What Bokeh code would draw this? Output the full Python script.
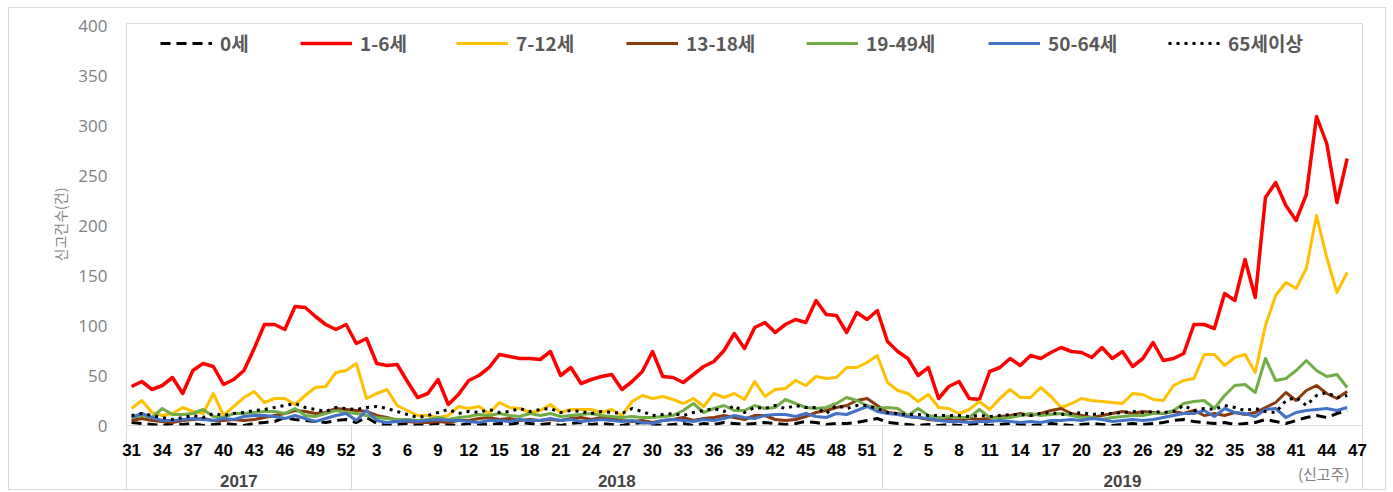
from bokeh.plotting import figure
from bokeh.models import FixedTicker, LinearAxis, Legend, LegendItem, Range1d
from bokeh.embed import file_html
from bokeh.resources import INLINE

# ---- categories (report weeks) ----
weeks_2017 = list(range(31, 53))
weeks_2018 = list(range(1, 53))
weeks_2019 = list(range(1, 48))
week_labels = [str(w) for w in weeks_2017 + weeks_2018 + weeks_2019]
years = ["2017", "2018", "2019"]
x_unit_label = "(신고주)"
y_ticks = [0, 50, 100, 150, 200, 250, 300, 350, 400]
series_names = ["0세", "1-6세", "7-12세", "13-18세", "19-49세", "50-64세", "65세이상"]

# ---- series values (weekly report counts) ----
age_0 = [3,2,1,0,2,1,2,0,1,2, 1,0,2,3,4,8,6,5,4,3, 5,6,3,8,2,0,1,2,0,1,
         2,1,0,2,1,1,2,1,3,2, 1,2,0,2,3,1,2,1,0,2, 3,1,0,1,2,0,2,1,3,2,
         1,2,3,2,1,2,4,3,1,2, 2,3,5,7,3,2,1,0,1,0, 1,0,1,2,0,1,2,1,0,1,
         2,1,0,1,2,1,0,1,2,1, 2,3,5,6,4,3,2,3,1,2, 3,6,4,2,5,8,10,8,12,15]
age_1_6 = [39,44,36,40,48,32,55,62,59,41, 46,55,77,101,101,96,119,118,109,101,
           96,101,82,87,62,60,61,44,28,32, 46,21,31,45,50,58,71,69,67,67,
           66,74,50,58,42,46,49,51,36,44, 54,74,49,48,43,51,59,64,75,92,
           77,98,103,93,101,106,103,125,111,110, 93,113,106,115,84,74,67,50,58,27,
           39,44,27,26,54,58,67,60,70,67, 73,78,74,73,68,78,67,74,59,67,
           83,65,67,72,101,101,97,132,125,166, 128,228,243,220,205,231,309,282,223,267]
age_7_12 = [17,25,13,10,12,18,14,12,32,10, 19,28,34,23,27,27,21,30,38,39,
            53,55,62,27,32,36,20,15,10,10, 8,10,19,17,19,12,23,18,17,13,
            15,21,13,16,16,16,13,16,10,24, 30,27,29,26,22,27,19,32,28,32,
            26,44,29,36,37,45,40,49,47,48, 58,58,63,70,43,35,32,24,31,18,
            17,12,16,24,16,27,36,28,28,38, 29,18,22,27,25,24,23,22,32,31,
            26,25,40,45,47,71,71,60,68,71, 53,100,130,143,137,157,210,168,133,153]
age_13_18 = [5,7,5,4,3,5,6,7,5,5, 6,5,6,8,10,12,15,14,12,13, 17,16,15,14,10,8,5,4,3,3,
             4,3,5,5,7,8,6,7,5,6, 5,6,5,7,8,6,8,7,5,4, 5,3,5,6,8,5,7,8,10,8,
             6,10,10,6,5,6,9,13,15,18, 20,25,27,20,13,12,9,8,6,5, 6,5,7,6,7,9,10,12,10,12,
             15,17,12,10,8,10,12,14,12,14, 13,12,14,12,15,10,12,10,13,11, 13,18,23,33,25,35,40,32,27,34]
age_19_49 = [8,10,8,17,11,11,12,16,9,8, 12,12,13,14,14,12,17,10,9,12, 15,13,12,10,8,7,6,6,5,6,
             8,6,8,9,11,10,12,10,9,12, 10,12,9,10,11,12,10,9,8,9, 8,8,9,10,15,22,13,17,20,15,
             15,20,17,18,26,22,18,17,18,22, 28,25,20,17,18,17,10,17,10,8, 9,8,8,16,8,7,8,10,12,10,
             11,12,10,8,8,6,8,9,10,10, 12,12,15,22,24,25,17,30,40,41, 33,67,45,47,55,65,55,49,51,38]
age_50_64 = [8,12,8,5,5,6,7,6,5,7, 6,9,10,10,9,7,10,7,4,7, 10,12,5,15,5,3,4,5,4,5,
             6,5,5,4,3,5,5,4,6,5, 5,7,5,6,4,5,6,5,4,5, 3,2,5,6,5,4,6,5,7,10,
             8,7,10,11,11,9,12,9,8,12, 11,15,19,14,12,11,9,8,7,5, 4,4,3,4,4,5,4,3,4,3,
             5,5,6,5,7,6,4,5,6,5, 6,8,10,12,12,15,9,17,13,12, 9,16,17,8,13,15,16,17,15,18]
age_65 = [10,12,10,8,6,8,10,8,12,10, 12,13,15,16,18,20,22,18,16,14, 18,17,16,18,19,17,14,11,8,10,
          13,16,12,14,13,16,13,14,17,14, 16,17,13,15,14,12,14,13,12,17, 14,10,11,12,10,13,15,17,14,20,
          13,18,17,20,17,20,18,18,12,20, 17,20,20,17,13,12,11,11,10,10, 10,10,9,10,9,10,11,11,10,12,
          13,11,12,13,11,12,12,13,14,13, 14,13,14,20,15,17,16,20,18,15, 17,14,13,25,28,20,30,33,28,30]

series = [age_0, age_1_6, age_7_12, age_13_18, age_19_49, age_50_64, age_65]
colors = ["#000000", "#ff0000", "#ffc000", "#8b3a0e", "#70ad47", "#4472c4", "#000000"]
dashes = ["10 6", "solid", "solid", "solid", "solid", "solid", "3 5"]
widths = [3, 3.5, 3, 3, 3, 3, 3]

n_cat = len(week_labels)
x = list(range(len(age_1_6)))

p = figure(width=1378, height=483, output_backend="svg", toolbar_location=None,
           x_range=Range1d(-0.5, n_cat - 0.5), y_range=Range1d(0, 402),
           min_border_left=117, min_border_right=25, min_border_top=15, min_border_bottom=66,
           background_fill_color="white", border_fill_color="white")
p.styles = {"border": "1px solid #d9d9d9", "margin-left": "8px", "margin-top": "7px"}
p.outline_line_color = "#d9d9d9"
p.outline_line_width = 1
p.xgrid.visible = False
p.ygrid.visible = False

renderers = []
for s, c, d, w in zip(series, colors, dashes, widths):
    r = p.line(x, s, line_color=c, line_width=w, line_dash=d, line_join="round")
    renderers.append(r)

# y axis
ya = p.yaxis[0]
ya.ticker = FixedTicker(ticks=y_ticks)
ya.axis_line_color = None
ya.major_tick_line_color = None
ya.minor_tick_line_color = None
ya.major_tick_out = 0
ya.major_tick_in = 0
ya.major_label_text_color = "#7f7f7f"
ya.major_label_text_font = "Open Sans"
ya.major_label_text_font_size = "17px"
ya.major_label_standoff = 19
ya.axis_label = "신고건수(건)"
ya.axis_label_text_font = "Noto Sans CJK KR"
ya.axis_label_text_font_style = "normal"
ya.axis_label_text_font_size = "14px"
ya.axis_label_text_color = "#7f7f7f"
ya.axis_label_standoff = 5

# week axis (minor ticks draw the year separators)
tick_pos = list(range(0, n_cat, 3))
xa = p.xaxis[0]
xa.ticker = FixedTicker(ticks=tick_pos, minor_ticks=[-0.5, 21.5, 73.5, n_cat - 0.5])
xa.major_label_overrides = {i: week_labels[i] for i in tick_pos}
xa.axis_line_color = None
xa.major_tick_line_color = None
xa.major_tick_out = 0
xa.major_tick_in = 0
xa.minor_tick_in = 0
xa.minor_tick_out = 66
xa.minor_tick_line_color = "#d9d9d9"
xa.minor_tick_line_width = 1
xa.major_label_text_font = "Liberation Sans"
xa.major_label_text_font_style = "bold"
xa.major_label_text_font_size = "17px"
xa.major_label_text_color = "#000000"
xa.major_label_standoff = -48

# unit caption row "(신고주)" under the last week labels
unit_pos = 116.7
ua = LinearAxis(ticker=FixedTicker(ticks=[unit_pos]),
                major_label_overrides={unit_pos: x_unit_label})
ua.axis_line_color = None
ua.major_tick_line_color = None
ua.minor_tick_line_color = None
ua.major_tick_out = 0
ua.major_tick_in = 0
ua.major_label_text_font = "Noto Sans CJK KR"
ua.major_label_text_font_size = "15px"
ua.major_label_text_color = "#808080"
ua.major_label_standoff = 4
p.add_layout(ua, "below")

# year axis
year_pos = [10.5, 47.5, 97]
yr = LinearAxis(ticker=FixedTicker(ticks=year_pos),
                major_label_overrides={year_pos[k]: years[k] for k in range(3)})
yr.axis_line_color = None
yr.major_tick_line_color = None
yr.minor_tick_line_color = None
yr.major_tick_out = 0
yr.major_tick_in = 0
yr.major_label_text_font = "Liberation Sans"
yr.major_label_text_font_style = "bold"
yr.major_label_text_font_size = "17px"
yr.major_label_standoff = -12
p.add_layout(yr, "below")

# legends: one per item, placed like the reference
leg_x = [34, 174, 330, 500, 680, 862, 1042]
for name, r, lx in zip(series_names, renderers, leg_x):
    lg = Legend(items=[LegendItem(label=name, renderers=[r])], location=(lx, 369),
                orientation="horizontal", glyph_width=52, glyph_height=14,
                label_standoff=8, padding=0, margin=0, spacing=0,
                border_line_color=None, background_fill_alpha=0,
                label_text_font="Noto Sans CJK KR", label_text_font_style="bold",
                label_text_font_size="19px", label_text_color="#595959")
    p.add_layout(lg, "center")

open("out.html", "w").write(file_html(p, INLINE))
